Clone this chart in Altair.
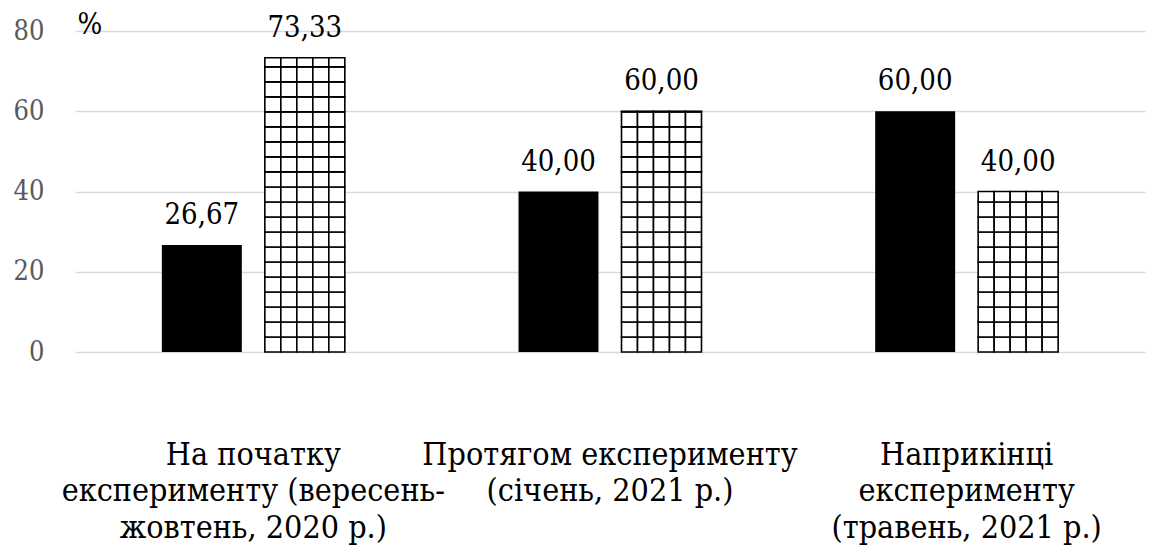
import altair as alt
import pandas as pd

# ---- data ----
categories = [
    "На початку|експерименту (вересень-|жовтень, 2020 р.)",
    "Протягом  експерименту|(січень, 2021 р.)",
    "Наприкінці|експерименту|(травень, 2021 р.)",
]
series_black = [26.67, 40.00, 60.00]
series_pattern = [73.33, 60.00, 40.00]
y_ticks = [0, 20, 40, 60, 80]

FONT = "DejaVu Serif Condensed"
CELL_H = 3.74          # height of one hatch cell, in axis units
PAT_COLS = ["p0", "p1", "p2", "p3", "p4"]
PAT_SPACERS = ["e0", "e1", "e2", "e3", "e4", "e5"]


def fmt(v):
    return f"{v:.2f}".replace(".", ",")


black_df = pd.DataFrame({
    "cat": categories,
    "value": series_black,
    "label": [fmt(v) for v in series_black],
    "s": ["b"] * len(categories),
})

pat_lab_df = pd.DataFrame({
    "cat": categories,
    "value": series_pattern,
    "label": [fmt(v) for v in series_pattern],
    "s": ["p2"] * len(categories),
})

# grid-hatch cells for the patterned series
rows = []
for c, v in zip(categories, series_pattern):
    i = 0
    while i * CELL_H < v - 1e-9:
        y0 = i * CELL_H
        y1 = min((i + 1) * CELL_H, v)
        for col in PAT_COLS:
            rows.append({"cat": c, "s": col, "y0": y0, "y1": y1})
        i += 1
cells_df = pd.DataFrame(rows)

x_enc = alt.X(
    "cat:N",
    scale=alt.Scale(domain=categories, paddingInner=0.487, paddingOuter=0.2435),
    axis=alt.Axis(
        title=None,
        labelExpr="split(datum.label, '|')",
        labelAngle=0,
        labelFont=FONT,
        labelFontSize=32,
        labelColor="#000000",
        labelLineHeight=36.5,
        labelPadding=112,
        labelLimit=0,
        labelBaseline="alphabetic",
        domain=False,
        ticks=False,
        grid=False,
    ),
)


def y_enc(field):
    return alt.Y(
        field,
        scale=alt.Scale(domain=[0, 80], nice=False),
        axis=alt.Axis(
            values=y_ticks,
            title="%",
            titleAngle=0,
            titleAlign="left",
            titleBaseline="alphabetic",
            titleX=2,
            titleY=2,
            titleFont=FONT,
            titleFontSize=29,
            titleFontWeight="normal",
            titleColor="#000000",
            labelFont=FONT,
            labelFontSize=27,
            labelColor="#595959",
            labelPadding=31,
            domain=False,
            ticks=False,
            grid=True,
            gridColor="#d9d9d9",
            gridWidth=1.3,
        ),
    )


black_off = alt.XOffset("s:N", scale=alt.Scale(domain=["b"], paddingInner=0, paddingOuter=0.644, align=0))
pat_off = alt.XOffset("s:N", scale=alt.Scale(domain=PAT_SPACERS + PAT_COLS, paddingInner=0, paddingOuter=0.219, align=1))

black_bars = alt.Chart(black_df).mark_bar(color="#000000").encode(
    x=x_enc, xOffset=black_off, y=y_enc("value:Q")
)
black_text = alt.Chart(black_df).mark_text(
    font=FONT, fontSize=29, baseline="alphabetic", dy=-21, color="#000000"
).encode(x=x_enc, xOffset=black_off, y=y_enc("value:Q"), text="label:N")

pat_cells = alt.Chart(cells_df).mark_bar(fill="#ffffff", stroke="#000000", strokeWidth=1.6).encode(
    x=x_enc, xOffset=pat_off, y=y_enc("y0:Q"), y2="y1:Q"
)
pat_text = alt.Chart(pat_lab_df).mark_text(
    font=FONT, fontSize=29, baseline="alphabetic", dy=-21, color="#000000"
).encode(x=x_enc, xOffset=pat_off, y=y_enc("value:Q"), text="label:N")

chart = alt.layer(
    alt.layer(black_bars, black_text),
    alt.layer(pat_cells, pat_text),
).resolve_scale(xOffset="independent").properties(
    width=1070,
    height=321,
    padding={"left": 67, "top": 23, "right": 1, "bottom": 194},
    autosize=alt.AutoSizeParams(type="none"),
).configure_view(strokeWidth=0)

chart.save("out.html", embed_options={"renderer": "svg", "actions": False})
